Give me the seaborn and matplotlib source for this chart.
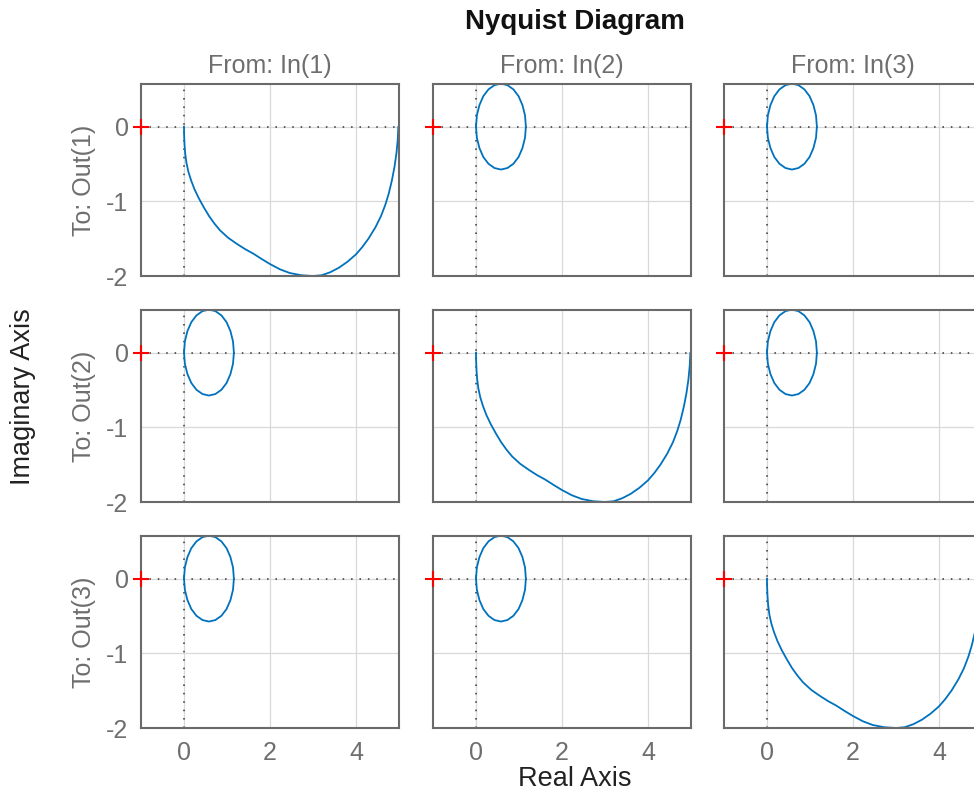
import matplotlib
matplotlib.use("Agg")
import matplotlib.pyplot as plt
import pandas as pd
import seaborn as sns

# ---------------- data ----------------
inputs = ["In(1)", "In(2)", "In(3)"]
outputs = ["Out(1)", "Out(2)", "Out(3)"]

# diagonal channels: Nyquist curve (real, imaginary)
diag_re = [0.0, 0.003, 0.012, 0.028, 0.055, 0.1, 0.165, 0.245, 0.345, 0.46,
           0.585, 0.71, 0.84, 1.03, 1.23, 1.42, 1.61, 1.8, 2.0, 2.23, 2.46,
           2.73, 3.0, 3.2, 3.4, 3.6, 3.8, 4.0, 4.15, 4.29, 4.45, 4.58, 4.68,
           4.76, 4.835, 4.895, 4.94, 4.97, 4.985]
diag_im = [0.0, -0.12, -0.24, -0.36, -0.48, -0.6, -0.72, -0.84, -0.96, -1.08,
           -1.2, -1.3, -1.39, -1.49, -1.57, -1.64, -1.70, -1.77, -1.84, -1.91,
           -1.96, -1.99, -2.0, -1.99, -1.95, -1.89, -1.81, -1.71, -1.61, -1.5,
           -1.35, -1.2, -1.05, -0.9, -0.72, -0.54, -0.36, -0.18, 0.0]

# off-diagonal channels: closed loop (real, imaginary)
circ_re = [0.0, 0.02, 0.08, 0.17, 0.29, 0.43, 0.58, 0.73, 0.87, 0.99, 1.08, 1.14,
           1.16, 1.14, 1.08, 0.99, 0.87, 0.73, 0.58, 0.43, 0.29, 0.17, 0.08, 0.02, 0.0]
circ_im = [0.0, -0.149, -0.288, -0.407, -0.498, -0.555, -0.575, -0.555, -0.498,
           -0.407, -0.288, -0.149, 0.0, 0.149, 0.288, 0.407, 0.498, 0.555, 0.575,
           0.555, 0.498, 0.407, 0.288, 0.149, 0.0]

crit_re = [-1.0]
crit_im = [0.0]

x_ticks = [0, 2, 4]
y_ticks = [-2, -1, 0]
x_limits = (-1, 5)
y_limits = (-2, 0.57)

# ---------------- style ----------------
sns.set_theme(style="white")
plt.rcParams["font.family"] = ["Liberation Sans", "DejaVu Sans"]
plt.rcParams["axes.unicode_minus"] = False

W, H = 974, 793
fig = plt.figure(figsize=(W / 100, H / 100), dpi=100)
fig.patch.set_facecolor("white")

lefts = [141, 433, 724]
tops = [84, 310, 536]
aw, ah = 258, 192

grey_txt = "#6e6e6e"
spine_c = "#6a6a6a"
line_c = "#0072BD"

diag_df = pd.DataFrame({"re": diag_re, "im": diag_im})
circ_df = pd.DataFrame({"re": circ_re, "im": circ_im})

for i in range(3):
    for j in range(3):
        ax = fig.add_axes([lefts[j] / W, 1 - (tops[i] + ah) / H, aw / W, ah / H])
        ax.set_facecolor("white")
        df = diag_df if i == j else circ_df
        ax.set_xlim(*x_limits)
        ax.set_ylim(*y_limits)
        ax.set_xticks(x_ticks)
        ax.set_yticks(y_ticks)
        ax.grid(True, color="#d9d9d9", lw=0.9, zorder=0)
        ax.set_axisbelow(True)
        ax.axhline(0, color="#333333", ls=(0, (1, 4.5)), lw=1.1, zorder=1)
        ax.axvline(0, color="#333333", ls=(0, (1, 4.5)), lw=1.1, zorder=1)
        sns.lineplot(data=df, x="re", y="im", sort=False, estimator=None,
                     color=line_c, lw=1.3, ax=ax, zorder=3)
        ax.plot(crit_re, crit_im, marker="+", color="red", ms=12, mew=1.5,
                ls="none", clip_on=False, zorder=6)
        ax.set_xlabel("")
        ax.set_ylabel("")
        for s in ax.spines.values():
            s.set_color(spine_c)
            s.set_linewidth(1.5)
            s.set_zorder(5)
        ax.tick_params(length=0, labelsize=18, labelcolor=grey_txt, pad=9)
        if j != 0:
            ax.set_yticklabels([])
        if i != 2:
            ax.set_xticklabels([])
        if i == 0:
            ax.set_title("From: " + inputs[j], fontsize=18, color=grey_txt, pad=8)
        if j == 0:
            fig.text(84 / W, 1 - (tops[i] + ah / 2) / H, "To: " + outputs[i],
                     rotation=90, ha="center", va="center", fontsize=18,
                     color=grey_txt)

fig.text(575 / W, 1 - 22 / H, "Nyquist Diagram", ha="center", va="center",
         fontsize=20, fontweight="bold", color="#111111")
fig.text(575 / W, 1 - 779 / H, "Real Axis", ha="center", va="center",
         fontsize=19.5, color="#222222")
fig.text(23 / W, 1 - 397 / H, "Imaginary Axis", ha="center", va="center",
         rotation=90, fontsize=19.5, color="#222222")

fig.savefig("out.png", dpi=100, facecolor="white")
